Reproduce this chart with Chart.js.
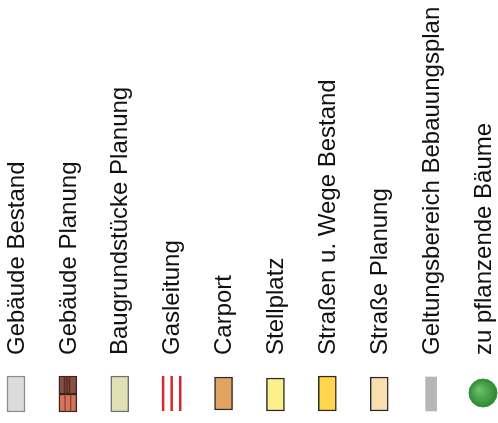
<!DOCTYPE html>
<html>
<head>
<meta charset="utf-8">
<script src="https://cdn.jsdelivr.net/npm/chart.js@4/dist/chart.umd.min.js"></script>
<style>
  html, body { margin: 0; padding: 0; background: #fff; }
  #wrap { width: 498px; height: 423px; position: relative; }
</style>
</head>
<body>
<div id="wrap"><canvas id="chart"></canvas></div>
<script>
// Legend entries, left to right
var labels = ['Gebäude Bestand', 'Gebäude Planung', 'Baugrundstücke Planung', 'Gasleitung',
  'Carport', 'Stellplatz', 'Straßen u. Wege Bestand', 'Straße Planung',
  'Geltungsbereich Bebauungsplan', 'zu pflanzende Bäume'];

// plain rectangular swatches
var rectIndex = [0, 2, 4, 5, 6, 7];
var rectFill = ['#dcdcdc', '#dfe1b5', '#e2a262', '#fbf08c', '#ffd54c', '#f7dfb0'];
var rectBorder = ['#8a8a8a', '#6f6f6f', '#2b2b2b', '#2b2b2b', '#2b2b2b', '#2b2b2b'];
var rectLow = [1.1, 1.1, 1.3, 1.2, 1.2, 1.2];
var rectHigh = [4.7, 4.7, 4.6, 4.5, 4.7, 4.6];

// Gebäude Planung: dark upper half, salmon lower half
var planIndex = 1;
var planLow = 1.1, planMid = 2.9, planHigh = 4.7;
var planUpperStripes = [-0.07, -0.035, 0.0, 0.035];
var planLowerStripes = [-0.055, 0.055];

// Gasleitung: three red lines
var gasIndex = 3;
var gasOffsets = [-0.165, 0, 0.165];
var gasLow = 1.2, gasHigh = 4.7;

// Geltungsbereich: narrow grey bar
var boundIndex = 8;
var boundLow = 1.2, boundHigh = 4.6;

// trees: green dot
var treeIndex = 9;
var treeY = 3.0;

var fontSize = 24;
var lineHeight = 1.2;

function stripes(idx, offsets, lo, hi) {
  var pts = [];
  offsets.forEach(function(o) {
    pts.push({x: idx + o, y: lo});
    pts.push({x: idx + o, y: hi});
    pts.push({x: idx + o, y: null});
  });
  return pts;
}

window.onload = function() {
  var rects = rectIndex.map(function(i, k) { return {x: i, y: [rectLow[k], rectHigh[k]]}; });

  new Chart('chart', {
    type: 'bar',
    data: {
      datasets: [
        {
          data: rects,
          backgroundColor: rectFill,
          borderColor: rectBorder,
          borderWidth: 1.5,
          borderSkipped: false,
          barThickness: 18,
          grouped: false,
          clip: false
        },
        {
          data: [{x: planIndex, y: [planMid, planHigh]}],
          backgroundColor: '#8b4f43',
          borderColor: '#3a2620',
          borderWidth: 1.5,
          borderSkipped: false,
          barThickness: 18,
          grouped: false,
          clip: false
        },
        {
          data: [{x: planIndex, y: [planLow, planMid]}],
          backgroundColor: '#d6745a',
          borderColor: '#3a2620',
          borderWidth: 1.5,
          borderSkipped: false,
          barThickness: 18,
          grouped: false,
          clip: false
        },
        // stripes sit on top of the two halves (lower order = drawn later)
        {
          type: 'line',
          order: -1,
          data: stripes(planIndex, planUpperStripes, planMid, planHigh),
          borderColor: '#4e271f',
          borderWidth: 1,
          pointRadius: 0,
          spanGaps: false,
          clip: false
        },
        {
          type: 'line',
          order: -1,
          data: stripes(planIndex, planLowerStripes, planLow, planMid),
          borderColor: '#6e3426',
          borderWidth: 1,
          pointRadius: 0,
          spanGaps: false,
          clip: false
        },
        {
          type: 'line',
          data: stripes(gasIndex, gasOffsets, gasLow, gasHigh),
          borderColor: '#d8262c',
          borderWidth: 2.5,
          pointRadius: 0,
          spanGaps: false,
          clip: false
        },
        {
          data: [{x: boundIndex, y: [boundLow, boundHigh]}],
          backgroundColor: '#b6b6b6',
          borderWidth: 0,
          barThickness: 11,
          grouped: false,
          clip: false
        },
        {
          type: 'scatter',
          data: [{x: treeIndex, y: treeY}],
          pointRadius: 14,
          pointBorderWidth: 1,
          pointBorderColor: '#3a8f3a',
          clip: false,
          pointBackgroundColor: function(ctx) {
            var chart = ctx.chart;
            if (!chart.chartArea) return '#3c9a3c';
            var x = chart.scales.x.getPixelForValue(treeIndex);
            var y = chart.scales.y.getPixelForValue(treeY);
            var g = chart.ctx.createRadialGradient(x - 4, y - 3, 1, x, y, 15);
            g.addColorStop(0, '#6cc06a');
            g.addColorStop(1, '#26862e');
            return g;
          }
        }
      ]
    },
    options: {
      responsive: true,
      maintainAspectRatio: false,
      animation: false,
      layout: { autoPadding: false, padding: { left: 16, right: 15, top: 0, bottom: 0 } },
      plugins: {
        legend: { display: false },
        tooltip: { enabled: false }
      },
      scales: {
        x: {
          type: 'linear',
          position: 'top',
          min: 0,
          max: 9,
          offset: false,
          grid: { display: false, drawTicks: false },
          border: { display: false },
          afterBuildTicks: function(scale) {
            scale.ticks = labels.map(function(_, i) { return {value: i}; });
          },
          // labels are long: let the axis take most of the height
          afterFit: function(scale) {
            scale.height = 358;
            scale.paddingLeft = 0;
            scale.paddingRight = 0;
          },
          ticks: {
            autoSkip: false,
            minRotation: 90,
            maxRotation: 90,
            padding: 3,
            labelOffset: fontSize * lineHeight + 1,
            color: '#111111',
            font: { family: 'Liberation Sans, Arial, sans-serif', size: fontSize, lineHeight: lineHeight },
            callback: function(v) { return labels[v]; }
          }
        },
        y: {
          display: false,
          min: 0,
          max: 6.5
        }
      }
    }
  });
};
</script>
</body>
</html>
